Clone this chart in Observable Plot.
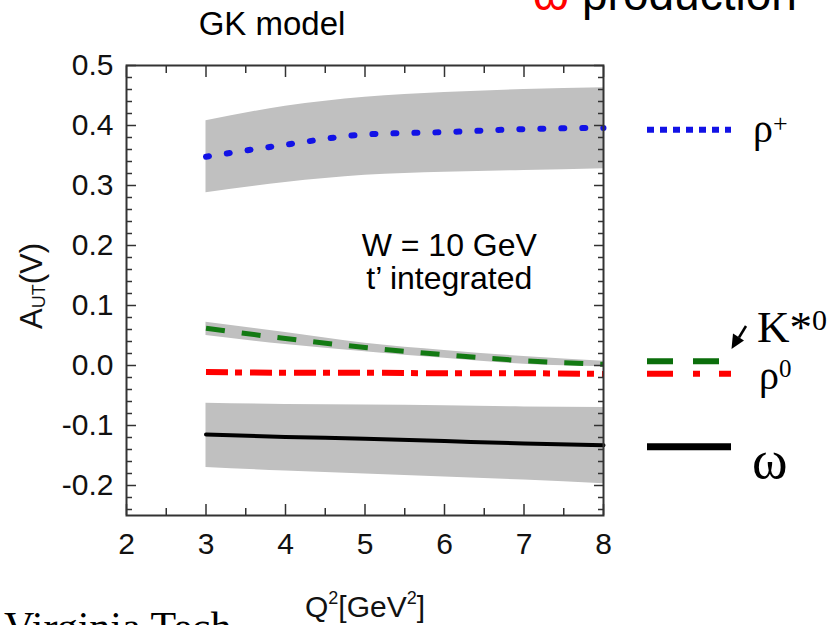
<!DOCTYPE html>
<html><head><meta charset="utf-8">
<script src="https://cdn.jsdelivr.net/npm/d3@7"></script>
<script src="https://cdn.jsdelivr.net/npm/@observablehq/plot@0.6"></script>
<style>html,body{margin:0;padding:0;background:#fff;overflow:hidden}</style>
</head><body><div id="chart"></div>
<script>
// ---- data ----
const q2        = [3, 4, 5, 6, 7, 8];
const rhoPlus   = [0.348, 0.368, 0.385, 0.389, 0.394, 0.396];
const rhoPlusLo = [0.288, 0.305, 0.317, 0.322, 0.325, 0.328];
const rhoPlusHi = [0.408, 0.432, 0.447, 0.455, 0.460, 0.463];
const kStar0    = [0.062, 0.045, 0.030, 0.018, 0.008, 0.002];
const kStar0Lo  = [0.050, 0.035, 0.023, 0.012, 0.002, -0.002];
const kStar0Hi  = [0.072, 0.055, 0.037, 0.025, 0.015, 0.007];
const rho0      = [-0.011, -0.012, -0.012, -0.013, -0.013, -0.014];
const omega     = [-0.115, -0.119, -0.122, -0.126, -0.130, -0.133];
const omegaLo   = [-0.170, -0.176, -0.181, -0.186, -0.191, -0.197];
const omegaHi   = [-0.063, -0.065, -0.066, -0.067, -0.069, -0.070];

const xMajor = [2, 3, 4, 5, 6, 7, 8];
const xMinor = [2.5, 3.5, 4.5, 5.5, 6.5, 7.5];
const yMajor = [-0.2, -0.1, 0.0, 0.1, 0.2, 0.3, 0.4, 0.5];
const yMinor = [-0.24, -0.22, -0.18, -0.16, -0.14, -0.12, -0.08, -0.06, -0.04, -0.02,
                0.02, 0.04, 0.06, 0.08, 0.12, 0.14, 0.16, 0.18, 0.22, 0.24, 0.26, 0.28,
                0.32, 0.34, 0.36, 0.38, 0.42, 0.44, 0.46, 0.48];
const annotation = [{q: 6.06, a: 0.173, label: "W = 10 GeV\nt\u2019 integrated"}];

const rows = q2.map((q, i) => ({
  q, rhoPlus: rhoPlus[i], rhoPlusLo: rhoPlusLo[i], rhoPlusHi: rhoPlusHi[i],
  kStar0: kStar0[i], kStar0Lo: kStar0Lo[i], kStar0Hi: kStar0Hi[i],
  rho0: rho0[i], omega: omega[i], omegaLo: omegaLo[i], omegaHi: omegaHi[i]
}));

const SANS = "'Liberation Sans', Arial, Helvetica, sans-serif";
const SERIF = "'Liberation Serif', 'Times New Roman', serif";
const curve = "monotone-x";
const tickStyle = {fill: "none", label: null, stroke: "#333", strokeWidth: 1.5};

const plot = Plot.plot({
  width: 839, height: 625,
  marginLeft: 126, marginRight: 236, marginTop: 65, marginBottom: 110,
  x: {domain: [2, 8]},
  y: {domain: [-0.25, 0.5]},
  style: {fontFamily: SANS, fontSize: "30px", color: "#111", background: "#fff"},
  marks: [
    Plot.areaY(rows, {x: "q", y1: "rhoPlusLo", y2: "rhoPlusHi", fill: "#c0c0c0", curve}),
    Plot.areaY(rows, {x: "q", y1: "kStar0Lo", y2: "kStar0Hi", fill: "#c0c0c0", curve}),
    Plot.areaY(rows, {x: "q", y1: "omegaLo", y2: "omegaHi", fill: "#c0c0c0", curve}),
    Plot.lineY(rows, {x: "q", y: "omega", stroke: "#000", strokeWidth: 4, curve}),
    Plot.lineY(rows, {x: "q", y: "rho0", stroke: "#ff0000", strokeWidth: 6, strokeDasharray: "22,7,7,8", strokeLinecap: "butt", curve}),
    Plot.lineY(rows, {x: "q", y: "kStar0", stroke: "#137a13", strokeWidth: 5, strokeDasharray: "19,17", strokeLinecap: "butt", curve}),
    Plot.lineY(rows, {x: "q", y: "rhoPlus", stroke: "#1212e6", strokeWidth: 6, strokeDasharray: "3,18", strokeLinecap: "round", curve}),
    Plot.text(annotation, {x: "q", y: "a", text: "label", fontSize: 32, lineHeight: 1.03, fill: "#000"}),
    // inward ticks on all four sides
    Plot.axisX(xMajor, {anchor: "bottom", tickSize: -11, ...tickStyle}),
    Plot.axisX(xMinor, {anchor: "bottom", tickSize: -7, ...tickStyle}),
    Plot.axisX(xMajor, {anchor: "top", tickSize: -11, ...tickStyle}),
    Plot.axisX(xMinor, {anchor: "top", tickSize: -7, ...tickStyle}),
    Plot.axisY(yMajor, {anchor: "left", tickSize: -10, ...tickStyle}),
    Plot.axisY(yMinor, {anchor: "left", tickSize: -6, ...tickStyle}),
    Plot.axisY(yMajor, {anchor: "right", tickSize: -10, ...tickStyle}),
    Plot.axisY(yMinor, {anchor: "right", tickSize: -6, ...tickStyle}),
    // tick labels
    Plot.axisX(xMajor, {anchor: "bottom", tickSize: 0, tickPadding: 17, tickFormat: d => String(d), label: null, fill: "#111"}),
    Plot.axisY(yMajor, {anchor: "left", tickSize: 0, tickPadding: 13, tickFormat: d => d.toFixed(1), label: null, fill: "#111"}),
    Plot.frame({stroke: "#333", strokeWidth: 2})
  ]
});
document.getElementById("chart").appendChild(plot);

// ---- annotations, axis titles and legend ----
const svg = d3.select(plot);
const txt = (x, y, s, size, family, fill = "#000", anchor = "start") =>
  svg.append("text").attr("x", x).attr("y", y).attr("font-size", size)
     .attr("font-family", family).attr("fill", fill).attr("text-anchor", anchor).text(s);

txt(272, 35, "GK model", 33, SANS, "#000", "middle");
txt(533, 10, "\u03c9", 46, SANS, "#ff0000");
txt(582, 10, "production", 46, SANS, "#000");
txt(4, 641, "Virginia Tech", 42, SERIF, "#000");

// y-axis title A_UT(V)
const yl = svg.append("text").attr("transform", "translate(42,286) rotate(-90)")
  .attr("text-anchor", "middle").attr("font-family", SANS).attr("font-size", 31).attr("fill", "#111");
yl.append("tspan").text("A");
yl.append("tspan").attr("font-size", 18).attr("dy", 3).text("UT");
yl.append("tspan").attr("dy", -3).text("(V)");

// x-axis title Q²[GeV²]
const xl = svg.append("text").attr("x", 365).attr("y", 617)
  .attr("text-anchor", "middle").attr("font-family", SANS).attr("font-size", 30).attr("fill", "#111");
xl.append("tspan").text("Q");
xl.append("tspan").attr("font-size", 18).attr("dy", -13).text("2");
xl.append("tspan").attr("dy", 13).text("[GeV");
xl.append("tspan").attr("font-size", 18).attr("dy", -13).text("2");
xl.append("tspan").attr("dy", 13).text("]");

// legend lines
const leg = [
  {y: 129.7, stroke: "#1212e6", w: 6, dash: "7,6"},
  {y: 361.3, stroke: "#0b6e0b", w: 6, dash: "26,20"},
  {y: 373.7, stroke: "#ff0000", w: 6, dash: "26,20,7,19,12"},
  {y: 446.7, stroke: "#000", w: 7, dash: null}
];
leg.forEach(d => {
  const l = svg.append("line").attr("x1", 647).attr("x2", 731).attr("y1", d.y).attr("y2", d.y)
    .attr("stroke", d.stroke).attr("stroke-width", d.w);
  if (d.dash) l.attr("stroke-dasharray", d.dash);
});

// legend labels
const lp = txt(753, 142, "\u03c1", 40, SERIF);
lp.append("tspan").attr("font-size", 26).attr("dy", -10).text("+");
const lk = txt(757, 342, "K*", 45, SERIF);
lk.append("tspan").attr("font-size", 30).attr("dy", -12).text("0");
const lr = txt(759, 389, "\u03c1", 40, SERIF);
lr.append("tspan").attr("font-size", 25).attr("dy", -12).text("0");
txt(752, 478, "\u03c9", 54, SERIF);

// arrow pointing to the K*0 line
svg.append("line").attr("x1", 746).attr("y1", 326).attr("x2", 739).attr("y2", 337.5)
  .attr("stroke", "#000").attr("stroke-width", 2.5);
svg.append("polygon").attr("points", "731.5,349 744,340.5 733,333.5").attr("fill", "#000");
</script>
</body></html>
